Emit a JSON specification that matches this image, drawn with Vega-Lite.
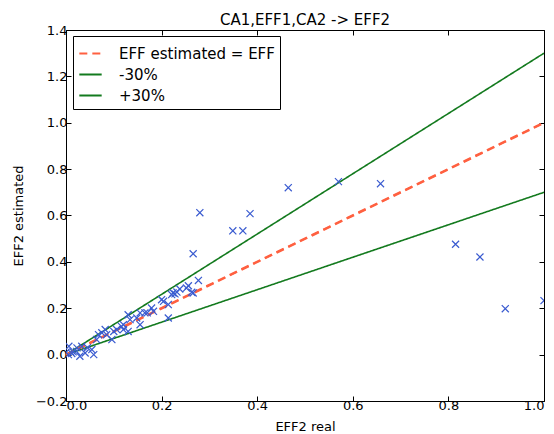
{
  "$schema": "https://vega.github.io/schema/vega-lite/v6.json",
  "width": 478,
  "height": 371,
  "autosize": {"type": "none"},
  "padding": {"left": 66, "top": 30, "right": 10, "bottom": 33},
  "background": "white",
  "config": {
    "font": "DejaVu Sans",
    "view": {"stroke": "black", "strokeWidth": 1},
    "axis": {"grid": false, "domain": false, "tickSize": -5, "tickWidth": 1, "tickColor": "black", "labelColor": "black", "labelFontSize": 13, "titleFontSize": 13, "titleFontWeight": "normal", "titleColor": "black", "labelOverlap": false},
    "title": {"fontSize": 15, "fontWeight": "normal", "color": "black", "offset": 5, "dy": 9}
  },
  "title": {"text": "CA1,EFF1,CA2 -> EFF2", "anchor": "middle"},
  "resolve": {"axis": {"x": "independent", "y": "independent"}},
  "datasets": {
    "pts": [
      {"x": 0.0, "y": 0.01}, {"x": 0.005, "y": 0.0}, {"x": 0.006, "y": 0.036}, {"x": 0.012, "y": 0.005}, {"x": 0.015, "y": 0.012},
      {"x": 0.022, "y": 0.014}, {"x": 0.023, "y": 0.029}, {"x": 0.029, "y": -0.007}, {"x": 0.033, "y": 0.036}, {"x": 0.04, "y": 0.007},
      {"x": 0.045, "y": 0.03}, {"x": 0.054, "y": 0.022}, {"x": 0.058, "y": 0.0}, {"x": 0.064, "y": 0.065}, {"x": 0.068, "y": 0.086},
      {"x": 0.075, "y": 0.094}, {"x": 0.082, "y": 0.108}, {"x": 0.085, "y": 0.086}, {"x": 0.096, "y": 0.065}, {"x": 0.1, "y": 0.1},
      {"x": 0.106, "y": 0.108}, {"x": 0.12, "y": 0.108}, {"x": 0.116, "y": 0.122}, {"x": 0.12, "y": 0.129}, {"x": 0.13, "y": 0.1},
      {"x": 0.134, "y": 0.151}, {"x": 0.13, "y": 0.172}, {"x": 0.148, "y": 0.158}, {"x": 0.155, "y": 0.129}, {"x": 0.155, "y": 0.18},
      {"x": 0.165, "y": 0.18}, {"x": 0.17, "y": 0.18}, {"x": 0.179, "y": 0.201}, {"x": 0.183, "y": 0.187}, {"x": 0.2, "y": 0.237},
      {"x": 0.204, "y": 0.23}, {"x": 0.214, "y": 0.216}, {"x": 0.214, "y": 0.158}, {"x": 0.221, "y": 0.259}, {"x": 0.224, "y": 0.266},
      {"x": 0.228, "y": 0.262}, {"x": 0.232, "y": 0.27}, {"x": 0.238, "y": 0.283}, {"x": 0.252, "y": 0.287}, {"x": 0.256, "y": 0.297},
      {"x": 0.263, "y": 0.269}, {"x": 0.266, "y": 0.266}, {"x": 0.277, "y": 0.32}, {"x": 0.266, "y": 0.435}, {"x": 0.28, "y": 0.612},
      {"x": 0.349, "y": 0.534}, {"x": 0.37, "y": 0.534}, {"x": 0.385, "y": 0.608}, {"x": 0.465, "y": 0.72}, {"x": 0.57, "y": 0.746},
      {"x": 0.658, "y": 0.737}, {"x": 0.815, "y": 0.476}, {"x": 0.866, "y": 0.421}, {"x": 0.919, "y": 0.198}, {"x": 1.0, "y": 0.233}
    ],
    "lines": [
      {"x": 0, "y": 0, "series": "EFF estimated = EFF"}, {"x": 1, "y": 1, "series": "EFF estimated = EFF"},
      {"x": 0, "y": 0, "series": "-30%"}, {"x": 1, "y": 0.7, "series": "-30%"},
      {"x": 0, "y": 0, "series": "+30%"}, {"x": 1, "y": 1.3, "series": "+30%"}
    ]
  },
  "layer": [
    {
      "data": {"name": "lines"},
      "mark": {"type": "line", "strokeWidth": 1.6, "clip": true},
      "encoding": {
        "x": {"field": "x", "type": "quantitative", "scale": {"domain": [0, 1], "nice": false}, "axis": {"title": "EFF2 real", "format": ".1f", "values": [0, 0.2, 0.4, 0.6, 0.8, 1.0], "labelPadding": 3, "titlePadding": 8}},
        "y": {"field": "y", "type": "quantitative", "scale": {"domain": [-0.2, 1.4], "nice": false}, "axis": {"title": "EFF2 estimated", "format": ".1f", "values": [-0.2, 0, 0.2, 0.4, 0.6, 0.8, 1.0, 1.2, 1.4], "labelPadding": 4, "titlePadding": 10}},
        "color": {"field": "series", "type": "nominal", "sort": ["EFF estimated = EFF", "-30%", "+30%"],
          "scale": {"domain": ["EFF estimated = EFF", "-30%", "+30%"], "range": ["#ff6040", "#137a1e", "#137a1e"]},
          "legend": {"title": null, "orient": "none", "legendX": 7, "legendY": 6, "strokeColor": "black", "fillColor": "white", "padding": 5, "labelFontSize": 15, "labelColor": "black", "symbolType": "stroke", "symbolSize": 500, "symbolStrokeWidth": 2, "rowPadding": 0, "labelOffset": 16, "labelLimit": 300}},
        "strokeDash": {"field": "series", "type": "nominal", "sort": ["EFF estimated = EFF", "-30%", "+30%"],
          "scale": {"domain": ["EFF estimated = EFF", "-30%", "+30%"], "range": [[8, 5], [1, 0], [1, 0]]}, "legend": null}
      }
    },
    {
      "data": {"name": "lines"},
      "transform": [{"filter": "datum.series === 'EFF estimated = EFF'"}],
      "mark": {"type": "line", "strokeWidth": 2.6, "color": "#ff6040", "strokeDash": [8, 5], "clip": true},
      "encoding": {
        "x": {"field": "x", "type": "quantitative", "axis": null},
        "y": {"field": "y", "type": "quantitative", "axis": null}
      }
    },
    {
      "data": {"name": "pts"},
      "mark": {"type": "point", "shape": "M-1,-1L1,1M1,-1L-1,1", "filled": false, "size": 50, "strokeWidth": 1.2, "color": "#3a5bd0", "opacity": 1, "clip": true},
      "encoding": {
        "x": {"field": "x", "type": "quantitative", "axis": {"orient": "top", "title": null, "labels": false, "values": [0, 0.2, 0.4, 0.6, 0.8, 1.0]}},
        "y": {"field": "y", "type": "quantitative", "axis": {"orient": "right", "title": null, "labels": false, "values": [-0.2, 0, 0.2, 0.4, 0.6, 0.8, 1.0, 1.2, 1.4]}}
      }
    }
  ]
}
